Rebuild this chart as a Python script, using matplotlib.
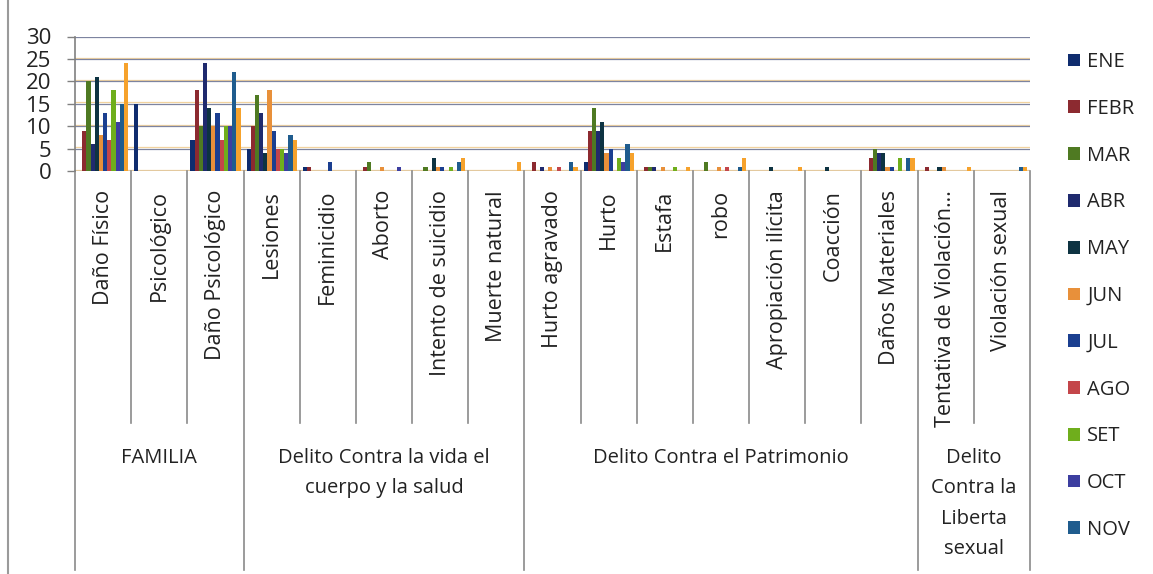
import matplotlib
matplotlib.use("Agg")
import matplotlib.pyplot as plt
import matplotlib.patheffects as pe
import matplotlib.transforms as mtransforms
import numpy as np

plt.rcParams["font.family"] = ["Open Sans", "DejaVu Sans"]

# categories (lower level) and their groups (upper level)
categories = [
    "Daño Físico", "Psicológico", "Daño Psicológico",
    "Lesiones", "Feminicidio", "Aborto", "Intento de suicidio", "Muerte natural",
    "Hurto agravado", "Hurto", "Estafa", "robo", "Apropiación ilícita", "Coacción",
    "Daños Materiales",
    "Tentativa de Violación…", "Violación sexual",
]
groups = [
    "FAMILIA",
    "Delito Contra la vida el\ncuerpo y la salud",
    "Delito Contra el Patrimonio",
    "Delito\nContra la\nLiberta\nsexual",
]
group_sizes = [3, 5, 7, 2]

months = ["ENE", "FEBR", "MAR", "ABR", "MAY", "JUN", "JUL", "AGO", "SET", "OCT", "NOV", "DIC"]
ene  = [0, 15, 7, 5, 1, 0, 0, 0, 0, 2, 0, 0, 0, 0, 0, 0, 0]
febr = [9, 0, 18, 10, 1, 1, 0, 0, 2, 9, 1, 0, 0, 0, 3, 1, 0]
mar  = [20, 0, 10, 17, 0, 2, 1, 0, 0, 14, 1, 2, 0, 0, 5, 0, 0]
abr  = [6, 0, 24, 13, 0, 0, 0, 0, 1, 9, 1, 0, 0, 0, 4, 0, 0]
may  = [21, 0, 14, 4, 0, 0, 3, 0, 0, 11, 0, 0, 1, 1, 4, 1, 0]
jun  = [8, 0, 10, 18, 0, 1, 1, 0, 1, 4, 1, 1, 0, 0, 1, 1, 0]
jul  = [13, 0, 13, 9, 2, 0, 1, 0, 0, 5, 0, 0, 0, 0, 1, 0, 0]
ago  = [7, 0, 7, 5, 0, 0, 0, 0, 1, 0, 0, 1, 0, 0, 0, 0, 0]
set_ = [18, 0, 10, 5, 0, 0, 1, 0, 0, 3, 1, 0, 0, 0, 3, 0, 0]
oct_ = [11, 0, 10, 4, 0, 1, 0, 0, 0, 2, 0, 0, 0, 0, 0, 0, 0]
nov  = [15, 0, 22, 8, 0, 0, 2, 0, 2, 6, 0, 1, 0, 0, 3, 0, 1]
dic  = [24, 0, 14, 7, 0, 0, 3, 2, 1, 4, 1, 3, 1, 0, 3, 1, 1]
series = [ene, febr, mar, abr, may, jun, jul, ago, set_, oct_, nov, dic]

colors = ["#0f2c6e", "#8c2a30", "#4f7a22", "#1f2a6e", "#0e3342", "#e8903a",
          "#1b3f90", "#c4464a", "#6fae1c", "#3c3ea0", "#1f5c8e", "#f6a22c"]

fig = plt.figure(figsize=(11.53, 5.74), dpi=100)
ax = fig.add_axes([75 / 1153, 1 - 171 / 574, 955 / 1153, 134.5 / 574])

n_cat = len(categories)
x = np.arange(n_cat)
w = (50 / 56) / len(series)
handles = []
for i, (vals, c) in enumerate(zip(series, colors)):
    b = ax.bar(x + (i - 5.5) * w, vals, width=w, color=c, linewidth=0, zorder=3)
    handles.append(b)

ax.set_xlim(-0.5, n_cat - 0.5)
ax.set_ylim(0, 30)
ax.set_yticks(range(0, 31, 5))
ax.set_xticks([])
ax.tick_params(axis="y", direction="out", length=6, width=1, color="#808080",
               pad=11, labelsize=16, labelcolor="#222222")
for s in ["top", "right", "bottom"]:
    ax.spines[s].set_visible(False)
ax.spines["left"].set_color("#808080")
ax.spines["left"].set_linewidth(1.2)

# gridlines: gray-blue with a faint orange top edge (scanned look)
ax.yaxis.grid(True, color="#7d84a0", linewidth=0.9, zorder=1)
for gl in ax.get_ygridlines():
    gl.set_path_effects([pe.SimpleLineShadow(offset=(0, 1.0), shadow_color="#e9b050", alpha=0.55),
                         pe.Normal()])
ax.set_axisbelow(True)

trans = mtransforms.blended_transform_factory(ax.transData, ax.transAxes)
px = 1 / 134.5  # one pixel in axes-fraction units

# category separators and group separators
bounds = np.cumsum([0] + group_sizes) - 0.5
for b in np.arange(-0.5, n_cat, 1.0):
    if np.any(np.isclose(bounds, b)):
        bottom = -(570 - 171) * px
    else:
        bottom = -(423 - 171) * px
    ax.plot([b, b], [0, bottom], transform=trans, color="#8a8a8a", lw=1.2,
            clip_on=False, zorder=2)

# category labels
for xi, lab in zip(x, categories):
    ax.text(xi, -19 * px, lab, transform=trans, rotation=90, ha="center", va="top",
            fontsize=15.5, color="#222222")

# group labels
for gi, (g, sz) in enumerate(zip(groups, group_sizes)):
    cx = (bounds[gi] + bounds[gi + 1]) / 2
    ax.text(cx, -(448 - 171) * px, g, transform=trans, ha="center", va="top",
            fontsize=14.5, color="#222222", linespacing=1.7)

# frame line on the left edge of the picture
fig.add_artist(plt.Line2D([8 / 1153, 8 / 1153], [0, 1], color="#9a9a9a", lw=1.5))

leg = fig.legend(handles[:11], months[:11], loc="upper left",
                 bbox_to_anchor=(1058 / 1153, 1 - 42 / 574), frameon=False,
                 fontsize=14.5, handlelength=0.6, handleheight=0.6,
                 handletextpad=0.35, labelspacing=1.33, borderpad=0)
for t in leg.get_texts():
    t.set_color("#222222")

fig.savefig("out.png", dpi=100)
